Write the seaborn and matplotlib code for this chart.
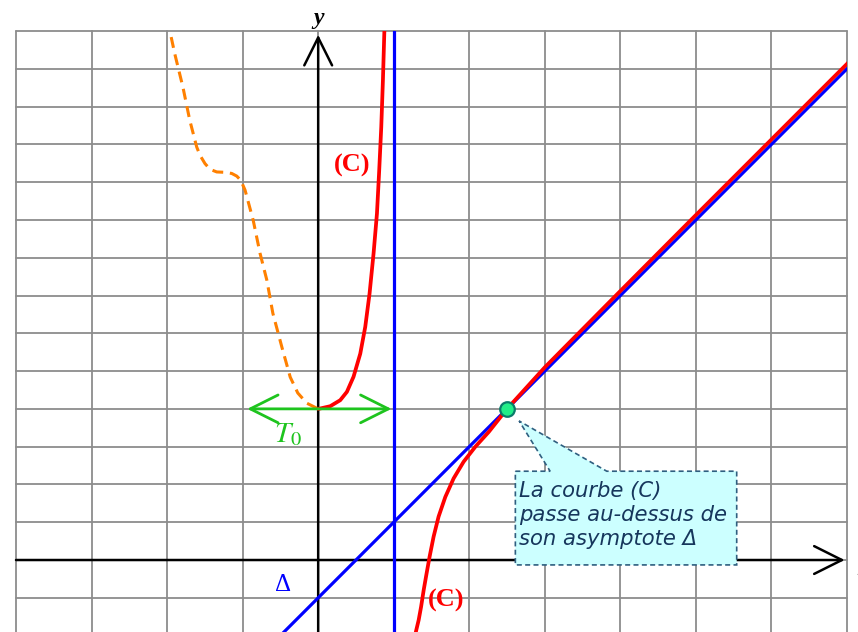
import matplotlib
matplotlib.use("Agg")
import matplotlib.pyplot as plt
import seaborn as sns
from matplotlib.patches import Polygon

# Curve (C), branch on [0, 1)
c_left_x = [0.0, 0.027, 0.159, 0.292, 0.380, 0.468, 0.557, 0.623, 0.680, 0.733,
            0.778, 0.808, 0.835, 0.857, 0.875, 0.884]
c_left_y = [4.0, 4.01, 4.07, 4.23, 4.45, 4.85, 5.46, 6.17, 7.05, 8.11,
            9.17, 10.32, 11.46, 12.70, 13.93, 14.4]

# Curve (C), branch on (1, +inf)
c_right_x = [1.26, 1.299, 1.330, 1.362, 1.397, 1.431, 1.475, 1.528, 1.594, 1.683,
             1.793, 1.925, 2.081, 2.258, 2.5, 2.75, 3.0, 3.5, 4.0, 5.0, 6.0, 7.0, 7.2]
c_right_y = [-2.2, -1.85, -1.59, -1.24, -0.79, -0.40, 0.09, 0.62, 1.15, 1.67,
             2.16, 2.60, 3.00, 3.39, 4.0, 4.55, 5.10, 6.11, 7.12, 9.13, 11.13, 13.13, 13.53]

# Sketch of a left extension (dashed)
ext_x = [-1.99, -1.96, -1.90, -1.79, -1.70, -1.608, -1.564, -1.498, -1.431, -1.343,
         -1.233, -1.144, -1.078, -1.025, -0.968, -0.86, -0.77, -0.68, -0.60, -0.48,
         -0.37, -0.27, -0.15, 0.0]
ext_y = [14.3, 13.97, 13.41, 12.51, 11.64, 10.93, 10.71, 10.49, 10.34, 10.27,
         10.26, 10.23, 10.16, 10.05, 9.79, 8.99, 8.12, 7.41, 6.53, 5.63,
         4.84, 4.42, 4.15, 4.0]

# Oblique asymptote Delta and vertical asymptote x = 1
delta_x = [-0.5, 7.2]
delta_y = [-2.0, 13.4]
vert_x = [1.0, 1.0]
vert_y = [-2.5, 14.5]

# Horizontal tangent T0 at (0, 4)
t0_x = [-0.94, 0.97]
t0_y = 4.0

# Point where (C) meets Delta
meet_x = [2.5]
meet_y = [4.0]

note_text = "La courbe (C)\npasse au-dessus de\nson asymptote Δ"

sns.set_theme(style="whitegrid")
plt.rcParams["font.family"] = ["DejaVu Sans"]
plt.rcParams["mathtext.fontset"] = "stix"

fig = plt.figure(figsize=(8.58, 6.32), dpi=100)
ax = fig.add_axes([16 / 858, 0, 831 / 858, 601 / 632])
ax.set_facecolor("white")
ax.set_xlim(-4, 7)
ax.set_ylim(-1.905, 14)
ax.set_xticks(range(-4, 8))
ax.set_yticks(range(-1, 15))
ax.tick_params(length=0, labelbottom=False, labelleft=False)
ax.grid(True, color="#8c8c8c", lw=1.3)
for gl in ax.get_xgridlines() + ax.get_ygridlines():
    gl.set_clip_on(False)
for sp in ax.spines.values():
    sp.set_visible(False)

# Coordinate axes with open arrowheads
arrow = dict(arrowstyle="->,head_length=1.0,head_width=0.5", lw=1.8, color="black",
             mutation_scale=20, shrinkA=0, shrinkB=0)
ax.annotate("", xy=(6.97, 0), xytext=(-4.0, 0), arrowprops=arrow, zorder=3,
            annotation_clip=False)
ax.annotate("", xy=(0, 13.9), xytext=(0, -1.905), arrowprops=arrow, zorder=3,
            annotation_clip=False)
ax.text(0, 14.34, "y", ha="center", va="center", fontsize=17, fontweight="bold",
        fontstyle="italic", family="Liberation Serif", color="black", clip_on=False)
ax.text(7.14, -0.25, "x", ha="left", va="center", fontsize=17, fontweight="bold",
        fontstyle="italic", family="Liberation Serif", color="black", clip_on=False)

# Asymptotes
sns.lineplot(x=vert_x, y=vert_y, color="#0000ff", lw=2.3, ax=ax, zorder=4,
             sort=False, estimator=None)
sns.lineplot(x=delta_x, y=delta_y, color="#0000ff", lw=2.3, ax=ax, zorder=4,
             sort=False, estimator=None)

# Curve (C)
sns.lineplot(x=c_left_x, y=c_left_y, color="#ff0000", lw=2.7, ax=ax, zorder=5,
             sort=False, estimator=None)
sns.lineplot(x=c_right_x, y=c_right_y, color="#ff0000", lw=2.7, ax=ax, zorder=5,
             sort=False, estimator=None)

# Dashed extension
sns.lineplot(x=ext_x, y=ext_y, color="#ff8000", lw=2.2, ax=ax, zorder=4,
             sort=False, estimator=None, dashes=False, linestyle=(0, (3.6, 2.2)))

# Tangent T0 (double arrow)
t0_arrow = dict(arrowstyle="<->,head_length=1.0,head_width=0.5", lw=2.0,
                color="#1ec41e", mutation_scale=20, shrinkA=0, shrinkB=0)
ax.annotate("", xy=(t0_x[1], t0_y), xytext=(t0_x[0], t0_y), arrowprops=t0_arrow,
            zorder=6)
ax.text(-0.40, 3.33, r"$T_0$", ha="center", va="center", fontsize=21,
        color="#1ec41e", zorder=6)

# Labels
ax.text(0.45, 10.45, "(C)", ha="center", va="center", fontsize=19, fontweight="bold",
        family="Liberation Serif", color="#ff0000", zorder=6)
ax.text(1.70, -1.08, "(C)", ha="center", va="center", fontsize=19, fontweight="bold",
        family="Liberation Serif", color="#ff0000", zorder=6)
ax.text(-0.46, -0.66, "Δ", ha="center", va="center", fontsize=18,
        family="Liberation Serif", color="#0000ff", zorder=6)

# Callout
callout = [(2.61, 2.35), (3.07, 2.35), (2.66, 3.68), (3.82, 2.35), (5.54, 2.35),
           (5.54, -0.13), (2.61, -0.13)]
ax.add_patch(Polygon(callout, closed=True, facecolor="#ccffff", edgecolor="#2f5f80",
                     lw=1.2, linestyle=(0, (3, 2)), zorder=7))
ax.text(2.66, 2.10, note_text, ha="left", va="top", fontsize=15.2, fontstyle="italic",
        color="#16365c", linespacing=1.27, zorder=8)

sns.scatterplot(x=meet_x, y=meet_y, s=110, color="#22ee88", edgecolor="#0b7a6a",
                linewidth=1.6, ax=ax, zorder=9)

ax.set_xlabel("")
ax.set_ylabel("")
fig.savefig("out.png", dpi=100)
